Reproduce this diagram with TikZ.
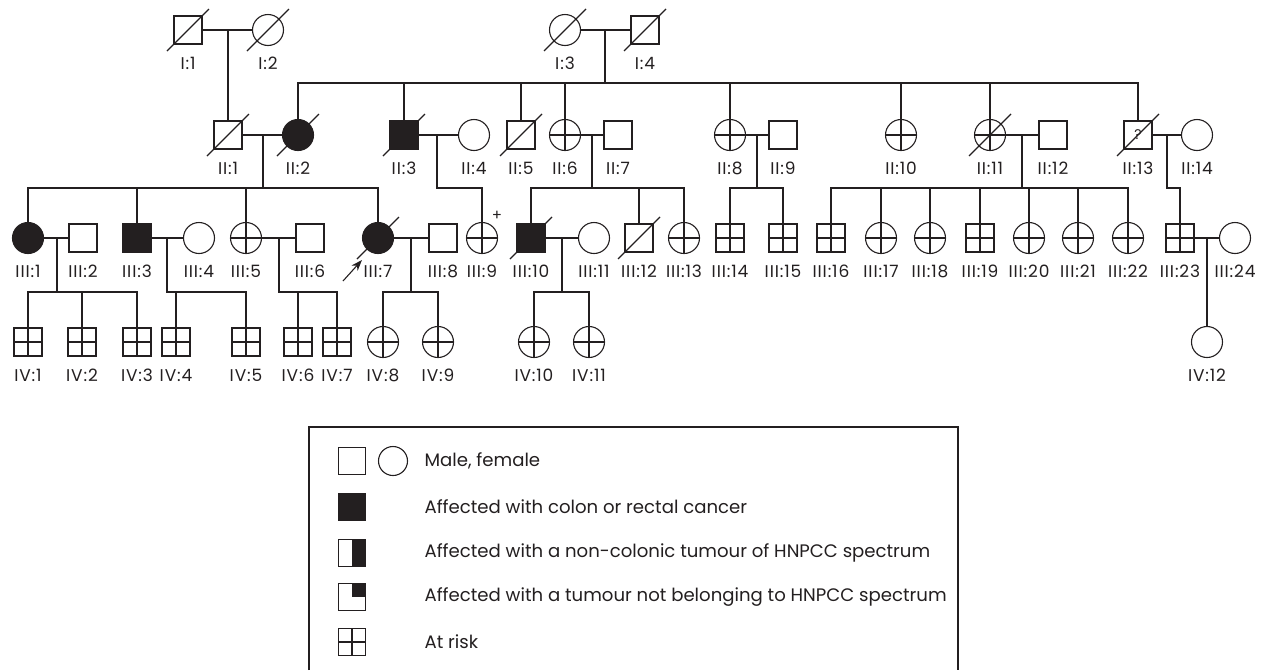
\documentclass[tikz,border=0pt]{standalone}
\usepackage{fontspec}
\setmainfont{Poppins}
\newfontfamily\lblfont[LetterSpace=5]{Poppins}
\usetikzlibrary{arrows.meta}
\definecolor{ink}{HTML}{231F20}
\tikzset{
  male/.style={draw, rectangle, minimum size=28pt, inner sep=0pt},
  female/.style={draw, circle, minimum size=31pt, inner sep=0pt},
  aff/.style={fill=ink},
  risk/.style={path picture={\draw (path picture bounding box.north) -- (path picture bounding box.south)
      (path picture bounding box.west) -- (path picture bounding box.east);}},
  half/.style={path picture={\fill (path picture bounding box.north) rectangle (path picture bounding box.south east);}},
  quart/.style={path picture={\fill (path picture bounding box.north) rectangle (path picture bounding box.east);}},
  lbl/.style={font=\lblfont\fontsize{17}{17}\selectfont, inner sep=0pt},
  legtext/.style={font=\fontsize{18.1}{20}\selectfont, anchor=west, inner sep=0pt},
}
% person symbol plus its label underneath
\newcommand\pnode[4]{\node[#1] (#2) at (#3) {};
  \node[lbl] (#2lab) at ([yshift=-33pt]#2.center) {#4};}

\begin{document}
\begin{tikzpicture}[x=1pt, y=-1pt, line width=1.1pt, color=ink]
\useasboundingbox (0,0) rectangle (1262,670);

% generation I
\pnode{male}{I1}{188,30}{I:1}
\pnode{female}{I2}{268,30}{I:2}
\pnode{female}{I3}{565,30}{I:3}
\pnode{male}{I4}{645,30}{I:4}

% generation II
\pnode{male}{II1}{228,135}{II:1}
\pnode{female,aff}{II2}{298,135}{II:2}
\pnode{male,aff}{II3}{404,135}{II:3}
\pnode{female}{II4}{474,135}{II:4}
\pnode{male}{II5}{521,135}{II:5}
\pnode{female,risk}{II6}{565,135}{II:6}
\pnode{male}{II7}{618,135}{II:7}
\pnode{female,risk}{II8}{730,135}{II:8}
\pnode{male}{II9}{783,135}{II:9}
\pnode{female,risk}{II10}{901,135}{II:10}
\pnode{female,risk}{II11}{990,135}{II:11}
\pnode{male}{II12}{1053,135}{II:12}
\node[male, font=\fontsize{14}{14}\selectfont] (II13) at (1138,135) {?};
\node[lbl] (II13lab) at ([yshift=-33pt]II13.center) {II:13};
\pnode{female}{II14}{1197,135}{II:14}

% generation III
\pnode{female,aff}{III1}{28,238}{III:1}
\pnode{male}{III2}{83,238}{III:2}
\pnode{male,aff}{III3}{137,238}{III:3}
\pnode{female}{III4}{199,238}{III:4}
\pnode{female,risk}{III5}{246,238}{III:5}
\pnode{male}{III6}{310,238}{III:6}
\pnode{female,aff}{III7}{378,238}{III:7}
\pnode{male}{III8}{443,238}{III:8}
\pnode{female,risk}{III9}{482,238}{III:9}
\pnode{male,aff}{III10}{531,238}{III:10}
\pnode{female}{III11}{594,238}{III:11}
\pnode{male}{III12}{639,238}{III:12}
\pnode{female,risk}{III13}{684,238}{III:13}
\pnode{male,risk}{III14}{730,238}{III:14}
\pnode{male,risk}{III15}{783,238}{III:15}
\pnode{male,risk}{III16}{831,238}{III:16}
\pnode{female,risk}{III17}{881,238}{III:17}
\pnode{female,risk}{III18}{930,238}{III:18}
\pnode{male,risk}{III19}{980,238}{III:19}
\pnode{female,risk}{III20}{1029,238}{III:20}
\pnode{female,risk}{III21}{1078,238}{III:21}
\pnode{female,risk}{III22}{1128,238}{III:22}
\pnode{male,risk}{III23}{1180,238}{III:23}
\pnode{female}{III24}{1235,238}{III:24}
\node[font=\fontsize{15}{15}\selectfont, inner sep=0pt] (III9plus) at ([shift={(15,-22)}]III9.center) {+};

% generation IV
\pnode{male,risk}{IV1}{28,342}{IV:1}
\pnode{male,risk}{IV2}{82,342}{IV:2}
\pnode{male,risk}{IV3}{137,342}{IV:3}
\pnode{male,risk}{IV4}{176,342}{IV:4}
\pnode{male,risk}{IV5}{246,342}{IV:5}
\pnode{male,risk}{IV6}{298,342}{IV:6}
\pnode{male,risk}{IV7}{337,342}{IV:7}
\pnode{female,risk}{IV8}{383,342}{IV:8}
\pnode{female,risk}{IV9}{438,342}{IV:9}
\pnode{female,risk}{IV10}{534,342}{IV:10}
\pnode{female,risk}{IV11}{589,342}{IV:11}
\pnode{female}{IV12}{1207,342}{IV:12}

% deceased
\foreach \d in {I1,I2,I3,I4,II1,II2,II3,II5,II11,II13,III7,III10,III12}
  \draw ([shift={(-21,21)}]\d.center) -- ([shift={(21,-21)}]\d.center);

% proband
\coordinate (prb) at (343,281);
\draw[-{Stealth[length=11pt,width=8pt]}] (prb) -- ([shift={(-16,22)}]III7.center);

% marriages
\foreach \a/\b in {I1/I2,I3/I4,II1/II2,II3/II4,II6/II7,II8/II9,II11/II12,II13/II14,
    III1/III2,III3/III4,III5/III6,III7/III8,III10/III11,III23/III24}
  \draw (\a.east) -- (\b.west);

% sibship junctions
\coordinate (j2) at (605,83);
\coordinate (j3) at (263,188);
\coordinate (j4) at (437,188);
\coordinate (j5) at (592,188);
\coordinate (j6) at (757,188);
\coordinate (j7) at (1022,188);
\coordinate (j8) at (1167,188);
\coordinate (j9) at (57,292);
\coordinate (j10) at (167,292);
\coordinate (j11) at (279,292);
\coordinate (j12) at (411,292);
\coordinate (j13) at (562,292);

% descent lines
\draw (II1.north) -- (II1 |- I1.east);
\draw (j2) -- (j2 |- I3.east);
\draw (II2.north) |- (j2) -| (II13.north);
\foreach \c in {II3,II5,II6,II8,II10,II11} \draw (\c.north) -- (\c |- j2);

\draw (j3) -- (j3 |- II1.east);
\draw (III1.north) |- (j3) -| (III7.north);
\foreach \c in {III3,III5} \draw (\c.north) -- (\c |- j3);
\draw (j4 |- II3.east) -- (j4) -| (III9.north);
\draw (j5) -- (j5 |- II6.east);
\draw (III10.north) |- (j5) -| (III13.north);
\draw (III12.north) -- (III12 |- j5);
\draw (j6) -- (j6 |- II8.east);
\draw (III14.north) |- (j6) -| (III15.north);
\draw (j7) -- (j7 |- II11.east);
\draw (III16.north) |- (j7) -| (III22.north);
\foreach \c in {III17,III18,III19,III20,III21} \draw (\c.north) -- (\c |- j7);
\draw (j8 |- II13.east) -- (j8) -| (III23.north);

\draw (j9) -- (j9 |- III1.east);
\draw (IV1.north) |- (j9) -| (IV3.north);
\draw (IV2.north) -- (IV2 |- j9);
\draw (j10 |- III3.east) -- (j10) -| (IV5.north);
\draw (IV4.north) -- (IV4 |- j10);
\draw (j11 |- III5.east) -- (j11) -| (IV7.north);
\draw (IV6.north) -- (IV6 |- j11);
\draw (j12) -- (j12 |- III7.east);
\draw (IV8.north) |- (j12) -| (IV9.north);
\draw (j13) -- (j13 |- III10.east);
\draw (IV10.north) |- (j13) -| (IV11.north);
\draw (IV12.north) -- (IV12 |- III23.east);

% legend
\draw (309,670) -- (309,427) -- (958,427) -- (958,670);
\node[male, minimum size=27pt] (lgM) at (352,461) {};
\node[female, minimum size=29pt] (lgF) at (393,461) {};
\node[male, aff, minimum size=27pt] (lgA) at (352,507) {};
\node[male, half, minimum size=27pt] (lgH) at (352,553) {};
\node[male, quart, minimum size=27pt] (lgN) at (352,597) {};
\node[male, risk, minimum size=27pt] (lgR) at (352,642) {};
\node[legtext] (lgt1) at (424,461) {Male, female};
\node[legtext] (lgt2) at (424,507) {Affected with colon or rectal cancer};
\node[legtext] (lgt3) at (424,553) {Affected with a non-colonic tumour of HNPCC spectrum};
\node[legtext] (lgt4) at (424,597) {Affected with a tumour not belonging to HNPCC spectrum};
\node[legtext] (lgt5) at (424,642) {At risk};
\end{tikzpicture}
\end{document}
